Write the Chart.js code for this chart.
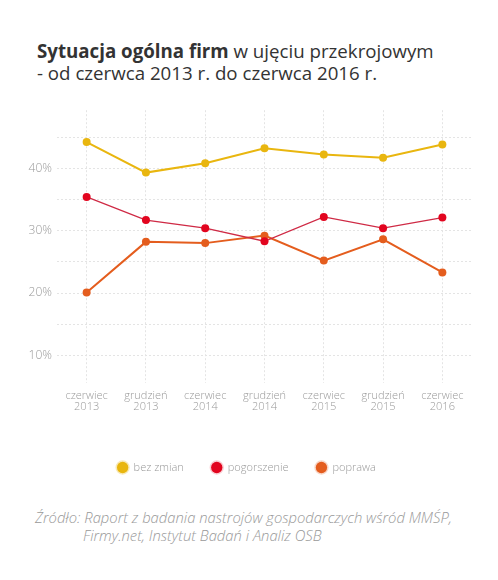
<!DOCTYPE html>
<html>
<head>
<meta charset="utf-8">
<script src="https://cdn.jsdelivr.net/npm/chart.js@4"></script>
<style>
  body { margin: 0; background: #fff; width: 498px; height: 580px; position: relative; overflow: hidden; }
  #title { position: absolute; left: 37px; top: 40px; font-family: "Open Sans", sans-serif; font-size: 18.7px; line-height: 21.5px; color: #333; }
  #title b { font-weight: 700; }
  #wrap { position: absolute; left: 0; top: 98px; width: 498px; height: 385px; }
  #source { position: absolute; left: 35px; top: 508px; font-family: "Open Sans", sans-serif; font-style: italic; font-weight: 300; font-size: 14.8px; line-height: 18px; color: #999; }
  #source span { display: block; padding-left: 48px; }
</style>
</head>
<body>
<div id="title"><b>Sytuacja ogólna firm</b> w ujęciu przekrojowym<br>- od czerwca 2013 r. do czerwca 2016 r.</div>
<div id="wrap"><canvas id="chart"></canvas></div>
<div id="source">Źródło: Raport z badania nastrojów gospodarczych wśród MMŚP,<span>Firmy.net, Instytut Badań i Analiz OSB</span></div>
<script>
const periods = [
    ["czerwiec", "2013"], ["grudzień", "2013"], ["czerwiec", "2014"], ["grudzień", "2014"],
    ["czerwiec", "2015"], ["grudzień", "2015"], ["czerwiec", "2016"]
];
const bezZmian = [44.2, 39.3, 40.8, 43.2, 42.2, 41.7, 43.8];
const pogorszenie = [35.4, 31.7, 30.4, 28.3, 32.2, 30.4, 32.1];
const poprawa = [20.1, 28.2, 28.0, 29.2, 25.2, 28.6, 23.3];

const yellow = "#e9b60f";
const red = "#e2051f";
const orange = "#e45d1e";

// nudge the legend a bit to the right, like in the original
const legendShift = {
    id: "legendShift",
    afterLayout(chart) {
        chart.legend.left += 21;
    }
};

const ctx = document.getElementById("chart").getContext("2d");

const chart = new Chart(ctx, {
    type: "line",
    data: {
        labels: periods,
        datasets: [
            {
                label: "bez zmian",
                data: bezZmian,
                borderColor: yellow,
                backgroundColor: yellow,
                borderWidth: 2,
                pointRadius: 4,
                pointBorderWidth: 0,
                halo: "rgba(233,182,15,0.3)",
            },
            {
                label: "pogorszenie",
                data: pogorszenie,
                borderColor: "#cf2a45",
                backgroundColor: red,
                pointBackgroundColor: red,
                borderWidth: 1.3,
                pointRadius: 4,
                pointBorderWidth: 0,
                halo: "rgba(226,5,31,0.2)",
            },
            {
                label: "poprawa",
                data: poprawa,
                borderColor: orange,
                backgroundColor: orange,
                borderWidth: 2,
                pointRadius: 4,
                pointBorderWidth: 0,
                halo: "rgba(228,93,30,0.25)",
            }
        ]
    },
    options: {
        responsive: true,
        maintainAspectRatio: false,
        animation: false,
        layout: { padding: { top: 10, right: 26, left: 0, bottom: 0 } },
        plugins: {
            tooltip: { enabled: false },
            legend: {
                position: "bottom",
                labels: {
                    usePointStyle: true,
                    pointStyle: "circle",
                    boxWidth: 11,
                    boxHeight: 8,
                    padding: 27.5,
                    color: "#999",
                    font: { family: "Open Sans", size: 11, weight: 300 },
                    generateLabels: (c) => c.data.datasets.map((ds, i) => ({
                        text: ds.label,
                        fillStyle: ds.backgroundColor,
                        strokeStyle: ds.halo,
                        lineWidth: 3,
                        pointStyle: "circle",
                        fontColor: "#999",
                        datasetIndex: i,
                        hidden: false
                    }))
                }
            }
        },
        scales: {
            x: {
                offset: true,
                grid: { color: "#e4e4e4", drawTicks: false },
                border: { display: false, dash: [2, 2] },
                ticks: {
                    color: "#999",
                    padding: 7,
                    maxRotation: 0,
                    font: { family: "Open Sans", size: 11, weight: 300, lineHeight: 1.05 }
                },
                afterFit: (scale) => { scale.height += 14.5; }
            },
            y: {
                min: 5.6,
                max: 49.3,
                grid: { color: "#e4e4e4", drawTicks: false },
                border: { display: false, dash: [2, 2] },
                afterBuildTicks: (scale) => {
                    scale.ticks = [10, 15, 20, 25, 30, 35, 40, 45].map(v => ({ value: v }));
                },
                ticks: {
                    color: "#999",
                    padding: 5,
                    font: { family: "Open Sans", size: 12, weight: 300 },
                    callback: (v) => v % 10 === 0 ? v + "%" : ""
                },
                afterFit: (scale) => { scale.width = 57; }
            }
        }
    },
    plugins: [legendShift]
});
</script>
</body>
</html>
